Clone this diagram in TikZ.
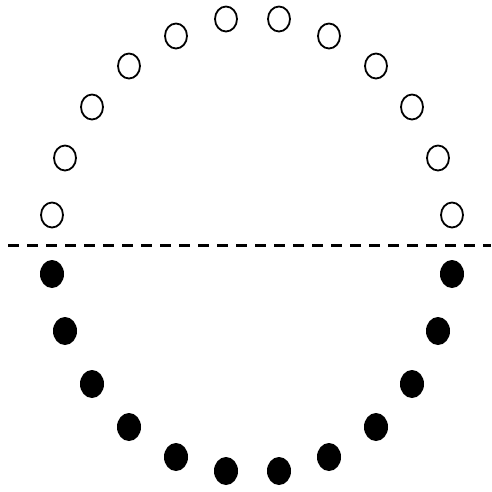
\documentclass[tikz,border=0pt]{standalone}
\begin{document}
\begin{tikzpicture}[x=1pt,y=-1pt,
  opendot/.style={draw=black,line width=1.8pt,fill=white},
  fulldot/.style={fill=black},
  divider/.style={line width=3pt,dash pattern=on 11pt off 8pt}]
\useasboundingbox[fill=white] (0,0) rectangle (492,491);
\foreach \x/\y [count=\i] in {52/215,65/158,92/107,129/66,176/36,226/19,279/19,329/36,376/66,412/107,438/158,452/215}
  \draw[opendot] (\x,\y) ellipse (11 and 12.5);
\foreach \x/\y [count=\i] in {52/274,65/331,92/384,129/427,176/457,226/471,279/471,329/457,376/427,412/384,438/331,452/274}
  \fill[fulldot] (\x,\y) ellipse (12 and 14);
\coordinate (L) at (8,245);
\coordinate (R) at (491,245);
\draw[divider] (L) -- (R);
\end{tikzpicture}
\end{document}
